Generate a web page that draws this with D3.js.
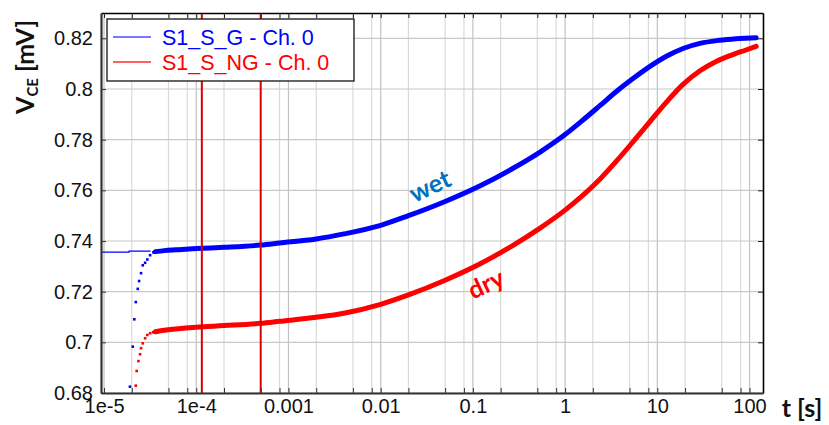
<!DOCTYPE html>
<html>
<head>
<meta charset="utf-8">
<script src="https://cdn.jsdelivr.net/npm/d3@7"></script>
<style>
  body { margin: 0; background: #fff; }
  svg { display: block; }
</style>
</head>
<body>
<svg id="chart" width="829" height="425"></svg>
<script>
// times [s] for the main part of both curves
const tMain = [3.6e-5, 4.5e-5, 6e-5, 1e-4, 2e-4, 5e-4, 8e-4, 0.002, 0.004, 0.01, 0.02, 0.05, 0.12, 0.27, 0.54, 1, 1.5, 2.4, 3.6, 5.5, 8.4, 12.7, 19, 29, 44, 67, 90, 118]
const wetMain = [0.7358, 0.7362, 0.7365, 0.7370, 0.7375, 0.7384, 0.7392, 0.7408, 0.7428, 0.7462, 0.7500, 0.7556, 0.7618, 0.7686, 0.7752, 0.7820, 0.7872, 0.7935, 0.7990, 0.8042, 0.8090, 0.8130, 0.8160, 0.8180, 0.8191, 0.8197, 0.8200, 0.8202]
const dryMain = [0.7042, 0.7048, 0.7053, 0.7060, 0.7066, 0.7075, 0.7083, 0.7099, 0.7115, 0.7150, 0.7187, 0.7245, 0.7310, 0.7382, 0.7452, 0.7522, 0.7575, 0.7645, 0.7715, 0.7793, 0.7873, 0.7950, 0.8018, 0.8072, 0.8110, 0.8137, 0.8153, 0.8168]

// first samples, drawn as single points
const wetRiseT = [1.91e-5, 2.05e-5, 2.13e-5, 2.21e-5, 2.32e-5, 2.40e-5, 2.52e-5, 2.63e-5, 2.79e-5, 2.95e-5, 3.16e-5, 3.43e-5]
const wetRiseV = [0.6825, 0.6983, 0.7091, 0.7159, 0.7211, 0.7242, 0.7273, 0.7304, 0.7314, 0.7327, 0.7344, 0.7355]
const dryRiseT = [2.21e-5, 2.26e-5, 2.36e-5, 2.46e-5, 2.52e-5, 2.63e-5, 2.79e-5, 2.95e-5, 3.16e-5, 3.4e-5]
const dryRiseV = [0.6829, 0.6887, 0.6926, 0.6953, 0.6977, 0.6996, 0.7016, 0.7029, 0.7036, 0.7040]

// thin lead-in line of the wet trace
const wetLeadT = [9.3e-6, 1.87e-5, 1.87e-5, 3.2e-5]
const wetLeadV = [0.7356, 0.7356, 0.7360, 0.7360]

// red markers
const markerT = [1.15e-4, 5e-4]

const xTickVals = [1e-5, 1e-4, 1e-3, 0.01, 0.1, 1, 10, 100]
const xTickLabels = ["1e-5", "1e-4", "0.001", "0.01", "0.1", "1", "10", "100"]
const yTickVals = [0.68, 0.70, 0.72, 0.74, 0.76, 0.78, 0.80, 0.82]
const yTickLabels = ["0.68", "0.7", "0.72", "0.74", "0.76", "0.78", "0.8", "0.82"]
const gridMult = [1, 2, 5, 8]

const seriesNames = ["S1_S_G - Ch. 0", "S1_S_NG - Ch. 0"]
const seriesColors = ["#0000ff", "#ff0000"]

var svg = d3.select("#chart")
var pLeft = 101, pRight = 763, pTop = 13, pBottom = 393

var x = d3.scaleLog().domain([9.27e-6, 140]).range([pLeft, pRight])
var y = d3.scaleLinear().domain([0.68, 0.83]).range([pBottom, pTop])

svg.append("rect").attr("width", 829).attr("height", 425).attr("fill", "#fff")

// grid values
var gridX = []
for (var e = -6; e <= 2; e++) {
  gridMult.forEach(function(m) {
    var v = m * Math.pow(10, e)
    if (v > x.domain()[0] && v < x.domain()[1]) gridX.push(v)
  })
}
var isDecade = d => xTickVals.some(v => Math.abs(v - d) / v < 1e-6)

svg.append("g").selectAll("line").data(gridX).join("line")
  .attr("x1", d => x(d)).attr("x2", d => x(d))
  .attr("y1", pTop).attr("y2", pBottom)
  .attr("stroke", d => isDecade(d) ? "#c2c2c2" : "#dadada")
  .attr("stroke-width", 1.2)

svg.append("g").selectAll("line").data(yTickVals).join("line")
  .attr("x1", pLeft).attr("x2", pRight)
  .attr("y1", d => y(d)).attr("y2", d => y(d))
  .attr("stroke", "#c8c8c8").attr("stroke-width", 1.2)

// curves
var line = d3.line().x(d => x(d[0])).y(d => y(d[1])).curve(d3.curveMonotoneX)

svg.append("path").datum(wetLeadT.map((t, i) => [t, wetLeadV[i]]))
  .attr("d", d3.line().x(d => x(d[0])).y(d => y(d[1])))
  .attr("fill", "none").attr("stroke", seriesColors[0]).attr("stroke-width", 1.2)

svg.append("path").datum(tMain.map((t, i) => [t, dryMain[i]]))
  .attr("d", line).attr("fill", "none").attr("stroke", seriesColors[1])
  .attr("stroke-width", 5).attr("stroke-linecap", "round")

svg.append("path").datum(tMain.map((t, i) => [t, wetMain[i]]))
  .attr("d", line).attr("fill", "none").attr("stroke", seriesColors[0])
  .attr("stroke-width", 5).attr("stroke-linecap", "round")

svg.append("g").selectAll("rect").data(wetRiseT.map((t, i) => [t, wetRiseV[i]])).join("rect")
  .attr("x", d => x(d[0]) - 1.3).attr("y", d => y(d[1]) - 1.3)
  .attr("width", 2.6).attr("height", 2.6).attr("fill", seriesColors[0])

svg.append("g").selectAll("rect").data(dryRiseT.map((t, i) => [t, dryRiseV[i]])).join("rect")
  .attr("x", d => x(d[0]) - 1.3).attr("y", d => y(d[1]) - 1.3)
  .attr("width", 2.6).attr("height", 2.6).attr("fill", seriesColors[1])

// vertical markers
svg.append("g").selectAll("line").data(markerT).join("line")
  .attr("x1", d => x(d)).attr("x2", d => x(d))
  .attr("y1", pTop).attr("y2", pBottom)
  .attr("stroke", "#dd0000").attr("stroke-width", 2)

// axes
var fmtX = function(d) {
  var i = xTickVals.findIndex(v => Math.abs(v - d) / v < 1e-6)
  return i >= 0 ? xTickLabels[i] : ""
}
var fmtY = function(d) {
  var i = yTickVals.findIndex(v => Math.abs(v - d) < 1e-9)
  return i >= 0 ? yTickLabels[i] : ""
}

var gTop = svg.append("g").attr("transform", "translate(0," + pTop + ")")
  .call(d3.axisTop(x).tickValues(gridX).tickSizeInner(-5).tickSizeOuter(0).tickFormat(""))
var gRight = svg.append("g").attr("transform", "translate(" + pRight + ",0)")
  .call(d3.axisRight(y).tickValues(yTickVals).tickSizeInner(-5).tickSizeOuter(0).tickFormat(""))
var gBottom = svg.append("g").attr("transform", "translate(0," + pBottom + ")")
  .call(d3.axisBottom(x).tickValues(gridX).tickSizeInner(-5).tickSizeOuter(0).tickPadding(6).tickFormat(fmtX))
var gLeft = svg.append("g").attr("transform", "translate(" + pLeft + ",0)")
  .call(d3.axisLeft(y).tickValues(yTickVals).tickSizeInner(-5).tickSizeOuter(0).tickPadding(8).tickFormat(fmtY))

;[gTop, gRight].forEach(function(g) {
  g.select(".domain").attr("stroke", "#000").attr("stroke-width", 1.6)
  g.selectAll(".tick line").attr("stroke", "#222").attr("stroke-width", 1)
})
;[gBottom, gLeft].forEach(function(g) {
  g.select(".domain").attr("stroke", "#333").attr("stroke-width", 2.2)
  g.selectAll(".tick line").attr("stroke", "#333").attr("stroke-width", 1)
  g.selectAll(".tick text").attr("font-family", "'Liberation Sans', Arial, sans-serif")
    .attr("font-size", 20).attr("fill", "#111")
})

// axis titles
var yt = svg.append("text")
  .attr("transform", "translate(34,67) rotate(-90)")
  .attr("text-anchor", "middle")
  .attr("font-family", "Lato, 'Open Sans', sans-serif").attr("font-weight", 700)
  .attr("font-size", 25).attr("fill", "#111")
yt.append("tspan").text("V")
yt.append("tspan").attr("font-size", 15).attr("dy", 4).text("CE")
yt.append("tspan").attr("dy", -4).text(" [mV]")

svg.append("text").attr("x", 802).attr("y", 417).attr("text-anchor", "middle")
  .attr("font-family", "Lato, 'Open Sans', sans-serif").attr("font-weight", 700)
  .attr("font-size", 25).attr("fill", "#111").text("t [s]")

// legend
var lg = svg.append("g")
lg.append("rect").attr("x", 107).attr("y", 19).attr("width", 247).attr("height", 62)
  .attr("fill", "#fff").attr("stroke", "#111").attr("stroke-width", 1.3)
seriesNames.forEach(function(name, i) {
  var yy = 37 + i * 25
  lg.append("line").attr("x1", 113).attr("x2", 151).attr("y1", yy).attr("y2", yy)
    .attr("stroke", i == 0 ? "#4a4aff" : "#ff2a2a").attr("stroke-width", 1.3)
  lg.append("text").attr("x", 162).attr("y", yy).attr("dy", "0.36em")
    .attr("font-family", "'Liberation Sans', Arial, sans-serif").attr("font-size", 21.5)
    .attr("fill", seriesColors[i]).text(name)
})

// annotations
svg.append("text").attr("transform", "translate(430,186) rotate(-25)")
  .attr("text-anchor", "middle").attr("dy", "0.35em")
  .attr("font-family", "Lato, 'Open Sans', sans-serif").attr("font-weight", 700)
  .attr("font-size", 25).attr("fill", "#0070c0").text("wet")
svg.append("text").attr("transform", "translate(486,284) rotate(-25)")
  .attr("text-anchor", "middle").attr("dy", "0.35em")
  .attr("font-family", "Lato, 'Open Sans', sans-serif").attr("font-weight", 700)
  .attr("font-size", 25).attr("fill", "#ff0000").text("dry")
</script>
</body>
</html>
